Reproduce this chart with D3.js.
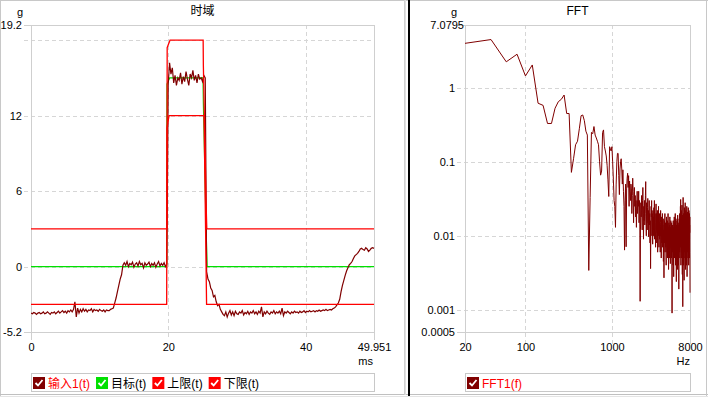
<!DOCTYPE html>
<html><head><meta charset="utf-8">
<script src="https://cdn.jsdelivr.net/npm/d3@7"></script>
<style>
html,body{margin:0;padding:0;background:#fff;}
svg{display:block;font-family:"Liberation Sans",Arial,"Noto Sans CJK SC",sans-serif;}
</style></head><body>
<svg id="c" width="708" height="398"></svg>
<script>
// ---------- DATA ----------
// time-domain input signal, 251 samples evenly spaced over 0..49.951 ms
const inputEnd = 49.951;
const inputValues = [
 -3.7,-3.75,-3.65,-3.7,-3.8,-3.7,-3.65,-3.75,-3.7,-3.6,
 -3.75,-3.7,-3.6,-3.7,-3.8,-3.65,-3.7,-3.6,-3.75,-3.65,
 -3.55,-3.7,-3.6,-3.5,-3.65,-3.55,-3.7,-3.5,-3.6,-3.45,
 -3.6,-3.4,-2.8,-4.0,-3.3,-3.7,-3.4,-3.6,-3.35,-3.55,
 -3.4,-3.6,-3.45,-3.5,-3.35,-3.6,-3.4,-3.5,-3.45,-3.55,
 -3.4,-3.5,-3.55,-3.45,-3.6,-3.45,-3.5,-3.5,-3.4,-3.35,
 -3.3,-2.9,-2.5,-2.0,-1.5,-1.0,-0.65,0.1,
 0.3,0.1,0.4,0.0,0.25,0.15,0.35,-0.05,0.2,0.3,
 0.05,0.4,0.15,0.25,-0.1,0.3,0.1,0.2,0.35,0.0,
 0.25,0.1,0.3,-0.05,0.2,0.4,0.05,0.25,0.1,0.3,0.0,0.2,
 14.5,16.2,15.3,15.8,14.6,15.2,14.4,15.0,14.8,15.4,
 14.5,15.1,14.7,15.5,14.9,14.4,15.3,15.0,15.6,14.8,
 15.2,14.6,15.3,14.9,15.0,14.7,15.2,15.0,
 -0.4,-1.0,-1.2,-1.7,-1.9,-2.4,-2.3,-2.8,-3.1,-3.0,-3.4,-3.6,-3.8,
 -3.9,-3.6,-4.0,-3.7,-3.5,-3.85,-3.6,-3.9,-3.55,-3.75,
 -3.8,-3.6,-3.7,-3.5,-3.85,-3.65,-3.75,-3.55,-3.8,-3.6,
 -3.7,-3.5,-3.75,-3.6,-3.8,-3.55,-3.7,-3.2,-4.0,-3.6,
 -3.75,-3.55,-3.7,-3.8,-3.6,-3.7,-3.5,-3.75,-3.6,-3.7,
 -3.55,-3.75,-3.3,-3.9,-3.6,-3.7,-3.55,-3.65,-3.75,-3.6,
 -3.7,-3.55,-3.65,-3.6,-3.7,-3.55,-3.65,-3.6,-3.5,-3.65,
 -3.55,-3.6,-3.5,-3.6,-3.55,-3.5,-3.6,-3.5,-3.55,-3.45,
 -3.55,-3.5,-3.45,-3.5,-3.4,-3.5,-3.45,-3.4,
 -3.45,-3.35,-3.3,-3.2,-3.05,-2.9,-2.6,-2.0,-1.5,-1.1,
 -0.7,-0.35,-0.1,0.15,0.25,0.4,0.65,0.85,0.95,1.05,
 1.2,1.4,1.45,1.35,1.3,1.5,1.4,1.2,1.3,1.45,1.5,1.45
];
const targetT = [0, 19.76, 19.8, 20.2, 25.05, 25.1, 25.55, 25.65, 49.951];
const targetV = [0, 0, 14.5, 15, 15, 13, 2, 0, 0];
const upperT = [0, 19.8, 19.83, 20.25, 25.07, 25.1, 25.5, 25.6, 49.951];
const upperV = [3, 3, 17.4, 18, 18, 16, 5, 3, 3];
const lowerT = [0, 19.76, 19.8, 20.1, 25.2, 25.57, 49.951];
const lowerV = [-3, -3, 11, 12, 12, -3, -3];

// FFT magnitude, bins every 20 Hz from 20 Hz to 8000 Hz
const fftStep = 20;
const fftValues = [
 4.0,4.5,2.25,2.85,1.45,2.04,0.62,0.58,0.33,0.33,
 0.53,0.65,0.7,0.8,0.45,0.45,0.072,0.11,0.17,0.19,
 0.28,0.42,0.43,0.36,0.26,0.23,0.0034,0.033,0.25,0.24,
 0.3,0.23,0.21,0.19,0.17,0.1,0.066,0.075,0.25,0.27,
 0.16,0.14,0.12,0.09,0.057,0.034,0.16,0.15,0.14,0.16,
 0.1,0.057,0.03,0.025,0.013,0.05,0.1,0.13,0.13,0.065,
 0.036,0.08,0.1,0.11,0.08,0.05,0.078,0.04,0.025,0.0064,
 0.03,0.05,0.0071,0.043,0.06,0.07,0.045,0.065,0.025,0.055,
 0.04,0.03,0.05,0.043,0.02,0.035,0.06,0.04,0.015,0.03,
 0.045,0.025,0.035,0.018,0.03,0.013,0.025,0.04,0.02,0.03,
 0.025,0.04,0.015,0.03,0.02,0.0013,0.012,0.028,0.018,0.035,
 0.022,0.012,0.03,0.045,0.02,0.009,0.025,0.016,0.03,0.014,
 0.02,0.035,0.054,0.018,0.01,0.028,0.02,0.012,0.024,0.032,
 0.015,0.022,0.0097,0.018,0.03,0.014,0.02,0.008,0.016,0.0036,
 0.012,0.025,0.018,0.03,0.01,0.02,0.015,0.0077,0.022,0.012,
 0.018,0.01,0.024,0.014,0.03,0.009,0.016,0.02,0.012,0.007,
 0.015,0.027,0.012,0.02,0.008,0.016,0.011,0.022,0.006,0.014,
 0.018,0.01,0.025,0.012,0.007,0.016,0.02,0.009,0.014,0.011,
 0.006,0.015,0.022,0.01,0.013,0.005,0.018,0.011,0.008,0.016,
 0.012,0.02,0.007,0.014,0.01,0.017,0.0045,0.012,0.009,0.0027,
 0.011,0.016,0.008,0.013,0.02,0.006,0.012,0.009,0.015,0.007,
 0.013,0.004,0.011,0.018,0.008,0.014,0.006,0.01,0.016,0.005,
 0.012,0.009,0.02,0.007,0.013,0.0035,0.011,0.015,0.006,0.01,
 0.014,0.005,0.012,0.018,0.008,0.01,0.0042,0.013,0.009,0.016,
 0.007,0.012,0.01,0.005,0.015,0.008,0.011,0.0009,0.01,0.013,
 0.006,0.014,0.009,0.011,0.004,0.016,0.008,0.012,0.0028,0.01,
 0.013,0.007,0.018,0.009,0.005,0.012,0.015,0.006,0.011,0.02,
 0.008,0.004,0.013,0.01,0.017,0.006,0.012,0.0024,0.009,0.014,
 0.011,0.005,0.016,0.008,0.012,0.0035,0.01,0.019,0.007,0.013,
 0.009,0.015,0.004,0.011,0.008,0.014,0.0019,0.012,0.01,0.017,
 0.006,0.013,0.009,0.02,0.005,0.012,0.016,0.008,0.011,0.025,
 0.007,0.031,0.01,0.004,0.015,0.009,0.022,0.006,0.013,0.018,
 0.005,0.011,0.026,0.008,0.014,0.003,0.012,0.019,0.007,0.0011,
 0.016,0.009,0.033,0.006,0.013,0.011,0.004,0.02,0.008,0.015,
 0.012,0.0025,0.017,0.01,0.024,0.006,0.013,0.009,0.02,0.005,
 0.014,0.028,0.008,0.012,0.0035,0.018,0.01,0.022,0.006,0.015,
 0.009,0.02,0.013,0.004,0.016,0.011,0.025,0.007,0.012,0.0028,
 0.018,0.01,0.015,0.006,0.021,0.012,0.008,0.017,0.005,0.014,
 0.011,0.024,0.007,0.013,0.019,0.004,0.015,0.01,0.022,0.008,
 0.016,0.012,0.005,0.02,0.009,0.014,0.011,0.018,0.006,0.0017
];

const timeXTicks = [0, 20, 40, 49.951];
const timeYTicks = [19.2, 12, 6, 0, -5.2];
const timeYGrid = [18, 12, 6, 0];
const timeXGrid = [20, 40];
const fftXTicks = [20, 100, 1000, 8000];
const fftYTicks = [7.0795, 1, 0.1, 0.01, 0.001, 0.0005];
const fftXGrid = [100, 1000];
const fftYGrid = [1, 0.1, 0.01, 0.001];

const legendLeft = [
  {name: "输入1(t)", box: "#800000", text: "#ff0000"},
  {name: "目标(t)", box: "#00e000", text: "#000000"},
  {name: "上限(t)", box: "#ff0000", text: "#000000"},
  {name: "下限(t)", box: "#ff0000", text: "#000000"}
];
const legendRight = [{name: "FFT1(f)", box: "#800000", text: "#ff0000"}];

// ---------- DRAW ----------
const svg = d3.select("#c");
const GRID = "#d6d6d6", BORDER = "#cfcfcf";
const FS = "11px", FS_CJK = "12px";
const p = v => Math.round(v) + 0.5;

function hline(g, y, x1, x2, color, dash) {
  g.append("line").attr("x1", x1).attr("x2", x2).attr("y1", p(y)).attr("y2", p(y))
    .attr("stroke", color).attr("stroke-width", 1).attr("stroke-dasharray", dash || null)
    .attr("shape-rendering", "crispEdges");
}
function vline(g, x, y1, y2, color, dash) {
  g.append("line").attr("x1", p(x)).attr("x2", p(x)).attr("y1", y1).attr("y2", y2)
    .attr("stroke", color).attr("stroke-width", 1).attr("stroke-dasharray", dash || null)
    .attr("shape-rendering", "crispEdges");
}

// frames
const frame = svg.append("g");
hline(frame, 0, 0, 708, "#c8c8c8");
vline(frame, 0, 0, 396, "#c8c8c8");
hline(frame, 394, 0, 708, "#c0c0c0");
hline(frame, 396, 0, 708, "#e4e4e4");
vline(frame, 404, 0, 395, "#d0d0d0");
vline(frame, 405, 0, 395, "#e0e0e0");
frame.append("rect").attr("x", 408).attr("y", 0).attr("width", 2).attr("height", 396).attr("fill", "#000");
vline(frame, 706, 0, 396, "#c8c8c8");

// ---- Left chart ----
const L = {x0: 31, x1: 374, y0: 25, y1: 332};
const xL = d3.scaleLinear().domain([0, inputEnd]).range([L.x0, L.x1]);
const yL = d3.scaleLinear().domain([-5.2, 19.2]).range([L.y1, L.y0]);
const gl = svg.append("g");

timeYGrid.forEach(v => hline(gl, yL(v), 24, L.x1, GRID, "4,3"));
timeXGrid.forEach(v => vline(gl, xL(v), L.y0, 340, GRID, "4,3"));
hline(gl, yL(19.2), 24, L.x1, BORDER);
hline(gl, yL(-5.2), 24, L.x1, BORDER);
vline(gl, xL(0), L.y0, 340, BORDER);
vline(gl, xL(inputEnd), L.y0, 340, BORDER);

const yAxL = gl.append("g").attr("transform", `translate(${L.x0},0)`)
  .call(d3.axisLeft(yL).tickValues(timeYTicks).tickSize(0).tickPadding(9).tickFormat(d => String(d)));
const xAxL = gl.append("g").attr("transform", `translate(0,${L.y1})`)
  .call(d3.axisBottom(xL).tickValues(timeXTicks).tickSize(0).tickPadding(11).tickFormat(d => String(d)));
[yAxL, xAxL].forEach(a => { a.select(".domain").remove(); a.attr("font-size", FS).attr("font-family", null);
  a.selectAll("text").attr("fill", "#000"); });

gl.append("text").attr("x", 23).attr("y", 15.5).attr("text-anchor", "end").attr("font-size", FS).text("g");
gl.append("text").attr("x", 373).attr("y", 364.5).attr("text-anchor", "end").attr("font-size", FS).text("ms");
gl.append("text").attr("x", (L.x0 + L.x1) / 2).attr("y", 15).attr("text-anchor", "middle").attr("font-size", FS_CJK).text("时域");

svg.append("clipPath").attr("id", "clipL").append("rect")
  .attr("x", L.x0).attr("y", L.y0 - 1).attr("width", L.x1 - L.x0 + 1).attr("height", L.y1 - L.y0 + 2);
const plotL = gl.append("g").attr("clip-path", "url(#clipL)");

const stepLine = (T, V) => d3.line().x((d, i) => xL(T[i])).y(d => yL(d))(V);
plotL.append("path").attr("d", stepLine(targetT, targetV)).attr("fill", "none").attr("stroke", "#00e000").attr("stroke-width", 1.2);
const dt = inputEnd / (inputValues.length - 1);
plotL.append("path").attr("d", d3.line().x((d, i) => xL(i * dt)).y(d => yL(d))(inputValues))
  .attr("fill", "none").attr("stroke", "#800000").attr("stroke-width", 1.2);
plotL.append("path").attr("d", stepLine(upperT, upperV)).attr("fill", "none").attr("stroke", "#ff0000").attr("stroke-width", 1.3);
plotL.append("path").attr("d", stepLine(lowerT, lowerV)).attr("fill", "none").attr("stroke", "#ff0000").attr("stroke-width", 1.3);

// ---- Right chart ----
const R = {x0: 465, x1: 690, y0: 25, y1: 332};
const xR = d3.scaleLog().domain([20, 8000]).range([R.x0, R.x1]);
const yR = d3.scaleLog().domain([0.0005, 7.0795]).range([R.y1, R.y0]);
const gr = svg.append("g");

fftYGrid.forEach(v => hline(gr, yR(v), 457, R.x1, GRID, "4,3"));
fftXGrid.forEach(v => vline(gr, xR(v), R.y0, 344, GRID, "4,3"));
hline(gr, yR(7.0795), 457, R.x1, BORDER);
hline(gr, yR(0.0005), 457, R.x1, BORDER);
vline(gr, xR(20), R.y0, 344, BORDER);
vline(gr, xR(8000), R.y0, 344, BORDER);

const yAxR = gr.append("g").attr("transform", `translate(${R.x0},0)`)
  .call(d3.axisLeft(yR).tickValues(fftYTicks).tickSize(0).tickPadding(10).tickFormat(d => String(d)));
const xAxR = gr.append("g").attr("transform", `translate(0,${R.y1})`)
  .call(d3.axisBottom(xR).tickValues(fftXTicks).tickSize(0).tickPadding(11).tickFormat(d => String(d)));
[yAxR, xAxR].forEach(a => { a.select(".domain").remove(); a.attr("font-size", FS).attr("font-family", null);
  a.selectAll("text").attr("fill", "#000"); });
yAxR.selectAll(".tick").filter(d => d === 7.0795).select("text").attr("x", -1);

gr.append("text").attr("x", 457).attr("y", 15.5).attr("text-anchor", "end").attr("font-size", FS).text("g");
gr.append("text").attr("x", 690).attr("y", 364.5).attr("text-anchor", "end").attr("font-size", FS).text("Hz");
gr.append("text").attr("x", (R.x0 + R.x1) / 2).attr("y", 15).attr("text-anchor", "middle").attr("font-size", FS_CJK).text("FFT");

svg.append("clipPath").attr("id", "clipR").append("rect")
  .attr("x", R.x0).attr("y", R.y0 - 1).attr("width", R.x1 - R.x0 + 1).attr("height", R.y1 - R.y0 + 2);
gr.append("g").attr("clip-path", "url(#clipR)").append("path")
  .attr("d", d3.line().x((d, i) => xR((i + 1) * fftStep)).y(d => yR(d))(fftValues))
  .attr("fill", "none").attr("stroke", "#800000").attr("stroke-width", 1);

// ---- Legends ----
function legend(items, x0, x1) {
  const g = svg.append("g");
  g.append("rect").attr("x", x0 + 0.5).attr("y", 373.5).attr("width", x1 - x0).attr("height", 18)
    .attr("fill", "#fff").attr("stroke", "#c8c8c8").attr("shape-rendering", "crispEdges");
  let x = x0 + 2;
  items.forEach(it => {
    g.append("rect").attr("x", x).attr("y", 377).attr("width", 12).attr("height", 12).attr("fill", it.box);
    g.append("path").attr("d", `M${x + 2.5},${383} L${x + 5},${385.5} L${x + 9.5},${380}`)
      .attr("fill", "none").attr("stroke", "#fff").attr("stroke-width", 1.8);
    const t = g.append("text").attr("x", x + 15).attr("y", 387.5).attr("font-size", FS_CJK)
      .attr("fill", it.text).text(it.name);
    x = x + 15 + t.node().getComputedTextLength() + 6;
  });
}
legend(legendLeft, L.x0, L.x1);
legend(legendRight, R.x0, R.x1);
</script>
</body></html>
